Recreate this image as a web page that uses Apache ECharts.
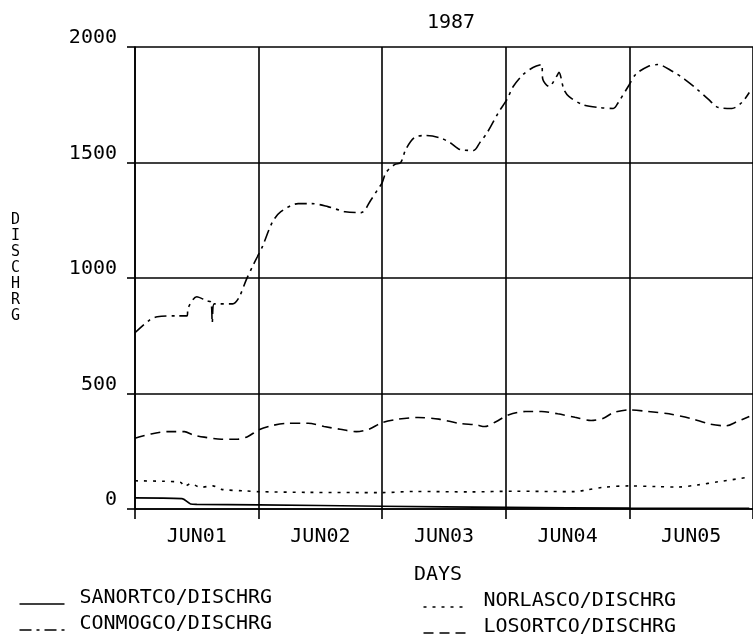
<!DOCTYPE html>
<html>
<head>
<meta charset="utf-8">
<title>1987 DISCHRG</title>
<script src="https://cdn.jsdelivr.net/npm/echarts@6/dist/echarts.min.js"></script>
<style>
  html, body { margin: 0; padding: 0; background: #ffffff; }
  #chart { width: 753px; height: 641px; }
</style>
</head>
<body>
<div id="chart"></div>
<script>
// day labels (one per band)
const dayLabels = ['JUN01', 'JUN02', 'JUN03', 'JUN04', 'JUN05'];
const yTicks = [0, 500, 1000, 1500, 2000];

// SANORTCO/DISCHRG - solid
const sanortDays = [0, 0.38, 0.45, 0.5, 1.0, 2.0, 3.0, 4.0, 4.97];
const sanortFlow = [48, 45, 22, 20, 18, 12, 7, 4, 3];

// NORLASCO/DISCHRG - dotted
const norlasDays = [0, 0.23, 0.37, 0.40, 0.45, 0.53, 0.63, 0.70, 0.90, 1.0, 1.4, 2.0, 2.26, 2.72, 3.06, 3.56, 3.65, 3.79, 4.0, 4.22, 4.39, 4.55, 4.72, 4.97];
const norlasFlow = [122, 120, 115, 97, 110, 94, 100, 85, 78, 75, 72, 71, 76, 74, 77, 75, 82, 94, 100, 97, 95, 104, 118, 138];

// CONMOGCO/DISCHRG - dash dot
const conmogDays = [0, 0.12, 0.18, 0.34, 0.42, 0.43, 0.5, 0.58, 0.615, 0.625, 0.64, 0.79, 0.84, 0.9, 0.95, 0.99, 1.03, 1.11, 1.18, 1.32,
  1.43, 1.56, 1.70, 1.83, 1.91, 1.96, 2.0, 2.03, 2.10, 2.15, 2.19, 2.26, 2.35, 2.46, 2.55, 2.63, 2.74, 2.79, 2.85, 2.94,
  3.01, 3.06, 3.14, 3.22, 3.29, 3.30, 3.35, 3.41, 3.43, 3.47, 3.51, 3.62, 3.75, 3.87, 3.91, 3.99, 4.05, 4.15, 4.23, 4.35,
  4.45, 4.55, 4.64, 4.72, 4.83, 4.91, 4.97];
const conmogFlow = [763, 819, 832, 836, 836, 871, 919, 901, 895, 806, 888, 888, 914, 992, 1049, 1092, 1135, 1240, 1287, 1322,
  1322, 1309, 1287, 1283, 1339, 1380, 1413, 1456, 1491, 1500, 1556, 1608, 1617, 1608, 1586, 1556, 1552, 1586, 1630, 1716,
  1773, 1829, 1881, 1911, 1924, 1859, 1829, 1872, 1890, 1816, 1786, 1751, 1738, 1734, 1760, 1829, 1881, 1916, 1924, 1894,
  1859, 1816, 1773, 1738, 1734, 1760, 1803];

// LOSORTCO/DISCHRG - dashed
const losortDays = [0, 0.13, 0.27, 0.40, 0.47, 0.56, 0.70, 0.83, 0.91, 1.0, 1.10, 1.23, 1.40, 1.53, 1.66, 1.79, 1.89, 2.0, 2.13, 2.29,
  2.46, 2.62, 2.76, 2.83, 2.92, 3.02, 3.16, 3.29, 3.42, 3.56, 3.69, 3.79, 3.87, 4.0, 4.15, 4.32, 4.49, 4.65, 4.78, 4.87, 4.97];
const losortFlow = [306, 325, 335, 335, 321, 311, 302, 302, 313, 342, 360, 371, 371, 357, 345, 335, 345, 374, 389, 396,
  389, 371, 364, 357, 378, 407, 422, 422, 412, 397, 383, 393, 417, 429, 422, 412, 393, 368, 360, 378, 400];

const FONT = 'DejaVu Sans Mono';
const FS = 20;
const INK = '#000000';

// line dash patterns per series
const dashSolid = null;
const dashDot = [12, 5, 3, 5];
const dotted = [3, 6];
const dashed = [10, 6];

const zip = (xs, ys) => xs.map((x, i) => [x, ys[i]]);

const chart = echarts.init(document.getElementById('chart'), null, { renderer: 'canvas' });

const lineSeries = (name, xs, ys, dash) => ({
  name: name,
  type: 'line',
  data: zip(xs, ys),
  showSymbol: false,
  symbol: 'none',
  smooth: 0.3,
  animation: false,
  lineStyle: { color: INK, width: 1.6, type: dash || 'solid' },
  itemStyle: { color: INK }
});

// hand-drawn legend: sample stroke under the text baseline, like the plotter output
const legendEntry = (name, dash, x, y, sampleLen) => ({
  type: 'group',
  left: x,
  top: y,
  children: [
    {
      type: 'line',
      shape: { x1: 0, y1: 16, x2: sampleLen, y2: 16 },
      style: { stroke: INK, lineWidth: 1.6, lineDash: dash }
    },
    {
      type: 'text',
      x: 60,
      y: 0,
      style: { text: name, fontFamily: FONT, fontSize: FS, fill: INK }
    }
  ]
});

const option = {
  backgroundColor: '#ffffff',
  animation: false,
  textStyle: { fontFamily: FONT, color: INK },
  title: {
    text: '1987',
    left: 446,
    top: 8,
    textAlign: 'center',
    textStyle: { fontFamily: FONT, fontSize: FS, fontWeight: 'normal', color: INK }
  },
  grid: {
    left: 135,
    right: -6,
    top: 47,
    bottom: 132,
    containLabel: false
  },
  xAxis: [
    {
      type: 'value',
      min: 0,
      max: 5,
      interval: 1,
      axisLine: { show: true, lineStyle: { color: INK, width: 1.6 } },
      axisTick: { show: true, inside: false, length: 10, lineStyle: { color: INK, width: 1.6 } },
      axisLabel: { show: false },
      splitLine: { show: true, lineStyle: { color: INK, width: 1.6 } }
    },
    {
      type: 'category',
      data: dayLabels,
      boundaryGap: true,
      position: 'bottom',
      axisLine: { show: false },
      axisTick: { show: false },
      splitLine: { show: false },
      axisLabel: { fontFamily: FONT, fontSize: FS, color: INK, margin: 18 },
      name: 'DAYS',
      nameLocation: 'middle',
      nameGap: 56,
      nameTextStyle: { fontFamily: FONT, fontSize: FS, color: INK, padding: [0, 12, 0, 0] }
    }
  ],
  yAxis: {
    type: 'value',
    min: yTicks[0],
    max: yTicks[yTicks.length - 1],
    interval: 500,
    axisLine: { show: true, lineStyle: { color: INK, width: 1.6 } },
    axisTick: { show: true, length: 8, lineStyle: { color: INK, width: 1.6 } },
    axisLabel: {
      fontFamily: FONT, fontSize: FS, color: INK, margin: 18,
      verticalAlign: 'bottom', lineHeight: 18,
      formatter: (v) => String(v)
    },
    splitLine: { show: true, lineStyle: { color: INK, width: 1.6 } }
  },
  graphic: [
    {
      type: 'text',
      left: 11,
      top: 212,
      style: {
        text: 'DISCHRG'.split('').join('\n'),
        fontFamily: FONT,
        fontSize: 15,
        lineHeight: 16,
        fill: INK
      }
    },
    legendEntry('SANORTCO/DISCHRG', dashSolid, 17, 588, 45),
    legendEntry('CONMOGCO/DISCHRG', dashDot, 17, 614, 45),
    legendEntry('NORLASCO/DISCHRG', dotted, 421, 591, 45),
    legendEntry('LOSORTCO/DISCHRG', dashed, 421, 617, 45)
  ],
  series: [
    lineSeries('SANORTCO/DISCHRG', sanortDays, sanortFlow, dashSolid),
    lineSeries('CONMOGCO/DISCHRG', conmogDays, conmogFlow, dashDot),
    lineSeries('NORLASCO/DISCHRG', norlasDays, norlasFlow, dotted),
    lineSeries('LOSORTCO/DISCHRG', losortDays, losortFlow, dashed)
  ]
};

chart.setOption(option);
</script>
</body>
</html>
